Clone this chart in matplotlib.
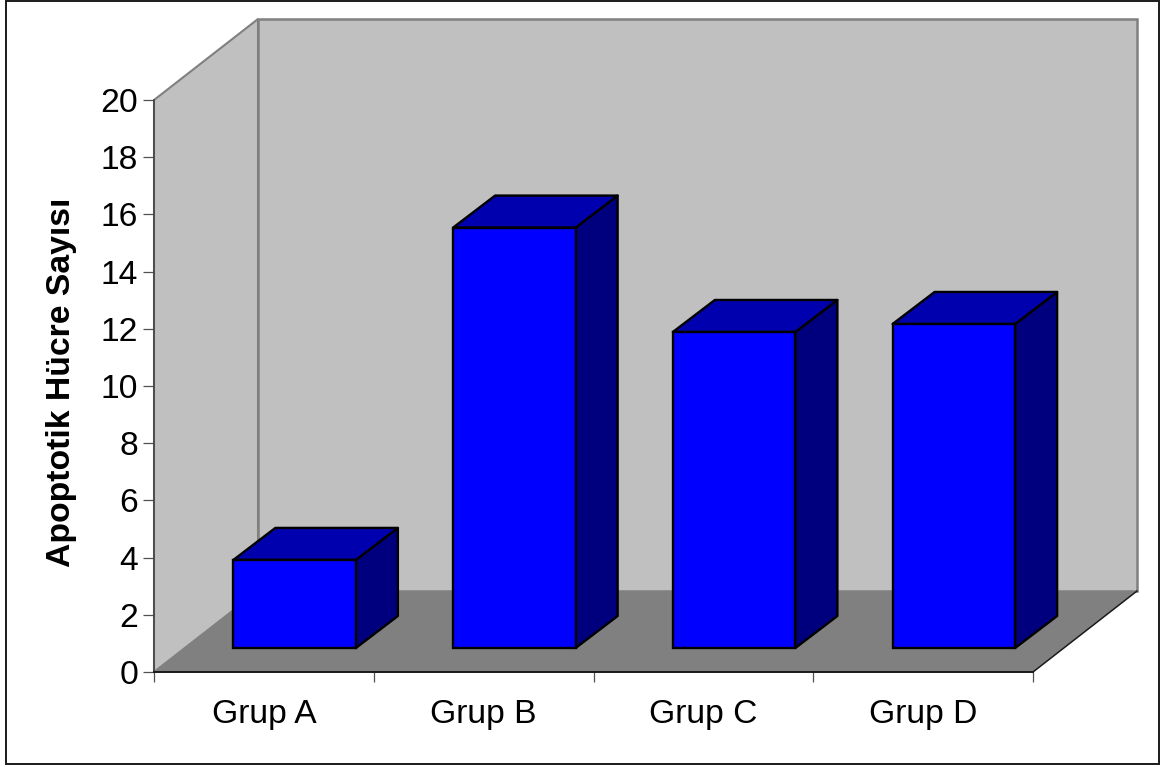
import numpy as np
import matplotlib
matplotlib.use("Agg")
import matplotlib.pyplot as plt
from matplotlib.patches import Polygon, Rectangle

groups = ["Grup A", "Grup B", "Grup C", "Grup D"]
apoptotic_counts = [3.08, 14.7, 11.05, 11.33]
y_ticks = list(range(0, 21, 2))

plt.rcParams["font.family"] = ["Liberation Sans", "DejaVu Sans"]

W, H = 1160, 767
fig = plt.figure(figsize=(W / 100, H / 100), dpi=100, facecolor="white")

# frame around the whole chart
fig.add_artist(Rectangle((5.5 / W, 3.5 / H), 1153 / W, 763 / H, transform=fig.transFigure,
                         fill=False, ec="#1a1a1a", lw=1.4))

ax = fig.add_axes([154 / W, (H - 672) / H, 879 / W, 572 / H])
ax.set_xlim(0, 4)
ax.set_ylim(0, 20)
ax.patch.set_visible(False)

# pixel sizes turned into data units
px_x = 4 / 879
px_y = 20 / 572

room_dx, room_dy = 104 * px_x, 81 * px_y
box_dx, box_dy = 42 * px_x, 32 * px_y
lift_x, lift_y = 30.75 * px_x, 24 * px_y
bar_w = 122.5 * px_x


def poly(pts, **kw):
    p = Polygon(pts, closed=True, clip_on=False, **kw)
    ax.add_patch(p)
    return p


# room: side wall, back wall, floor
poly([(0, 0), (room_dx, room_dy), (room_dx, 20 + room_dy), (0, 20)],
     fc="#C0C0C0", ec="#808080", lw=1.5, zorder=1)
poly([(room_dx, room_dy), (4 + room_dx, room_dy), (4 + room_dx, 20 + room_dy), (room_dx, 20 + room_dy)],
     fc="#C0C0C0", ec="#808080", lw=1.8, zorder=1)
poly([(0, 0), (room_dx, room_dy), (4 + room_dx, room_dy), (4, 0)],
     fc="#808080", ec="none", zorder=1.2)
ax.plot([4, 4 + room_dx], [0, room_dy], color="#1a1a1a", lw=1.1, clip_on=False, zorder=1.3)

# 3d boxes: front face from bar(), then side and top faces
centers = np.arange(len(groups)) + 0.5 + lift_x
ax.bar(centers, apoptotic_counts, width=bar_w, bottom=lift_y, color="#0000FF",
       edgecolor="black", linewidth=1.7, zorder=3)
for c, v in zip(centers, apoptotic_counts):
    x0, x1 = c - bar_w / 2, c + bar_w / 2
    y0, y1 = lift_y, lift_y + v
    poly([(x1, y0), (x1 + box_dx, y0 + box_dy), (x1 + box_dx, y1 + box_dy), (x1, y1)],
         fc="#00007F", ec="black", lw=1.7, joinstyle="round", zorder=2.8)
    poly([(x0, y1), (x0 + box_dx, y1 + box_dy), (x1 + box_dx, y1 + box_dy), (x1, y1)],
         fc="#0000AF", ec="black", lw=1.7, joinstyle="round", zorder=2.8)

for side in ["top", "right"]:
    ax.spines[side].set_visible(False)
ax.spines["left"].set_color("#404040")
ax.spines["left"].set_linewidth(1.1)
ax.spines["bottom"].set_color("#1a1a1a")
ax.spines["bottom"].set_linewidth(1.4)

ax.set_yticks(y_ticks)
ax.tick_params(axis="y", length=7.8, width=0.9, color="#505050", labelsize=24.2, pad=3.6, labelcolor="black")

# ticks sit between the groups, labels in the middle of each slot
ax.set_xticks(np.arange(len(groups) + 1))
ax.set_xticklabels([])
ax.set_xticks(np.arange(len(groups)) + 0.5, minor=True)
ax.set_xticklabels(groups, minor=True)
ax.tick_params(axis="x", which="major", length=7.5, width=0.9, color="#505050")
ax.tick_params(axis="x", which="minor", length=0, labelsize=24.2, pad=19.8, labelcolor="black")

fig.text(61.5 / W, (H - 382) / H, "Apoptotik Hücre Sayısı", rotation=90, ha="center", va="center",
         fontsize=24.3, fontweight="bold", color="black")

fig.savefig("out.png", dpi=100)
